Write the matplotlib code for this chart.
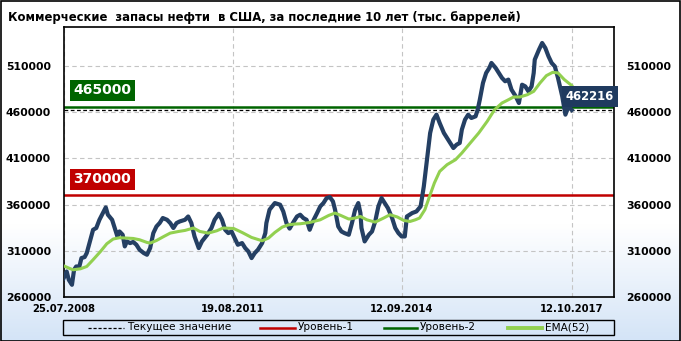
import numpy as np
import pandas as pd
import matplotlib
matplotlib.use('Agg')
import matplotlib.pyplot as plt
import matplotlib.transforms as mtransforms
from matplotlib.colors import LinearSegmentedColormap
from matplotlib.lines import Line2D
from matplotlib.patches import Rectangle

# -- data (thousand barrels), weekly, weeks counted from 25.07.2008 --
start_date = pd.Timestamp('2008-07-25')
stock_weeks = [0, 3, 5, 8, 10, 12, 15, 17, 20, 22, 25, 28, 31, 34, 38, 40, 42, 46, 49, 51,
               53, 56, 58, 60, 63, 66, 69, 72, 76, 79, 82, 85, 88, 91, 94, 98, 101, 104, 107, 110,
               115, 118, 121, 124, 128, 131, 136, 140, 143, 147, 150, 153, 156, 159, 162, 165, 169, 172, 175, 178,
               181, 184, 188, 191, 192, 195, 200, 205, 208, 211, 214, 218, 221, 224, 227, 230, 233, 236, 240, 243,
               246, 249, 252, 255, 257, 260, 263, 266, 270, 273, 276, 279, 281, 282, 285, 289, 292, 295, 298, 301,
               304, 307, 311, 314, 317, 320, 323, 325, 330, 334, 338, 341, 344, 347, 350, 353, 356, 360, 363, 366,
               369, 372, 375, 377, 380, 383, 386, 390, 392, 394, 397, 400, 403, 405, 409, 412, 415, 418, 421, 424,
               428, 431, 434, 437, 440, 443, 445, 446, 450, 453, 456, 459, 462, 465, 468, 472, 475, 478, 481]
stock_values = [280000, 287600, 278600, 273200, 289400, 293000, 293000, 302100, 303200, 307500,
                320100, 332700, 334600, 343500, 352500, 356900, 349000, 343500, 332700, 325500,
                330900, 327300, 314700, 320100, 318300, 319500, 316500, 311100, 307500, 305700,
                312900, 329100, 336300, 340000, 345400, 343500, 340000, 334600, 340000, 341700,
                343500, 347100, 340000, 325500, 312900, 320100, 327300, 334600, 343500, 350000,
                343500, 332700, 329100, 330900, 323700, 316500, 318300, 312900, 309200, 302100,
                307500, 311100, 318300, 329100, 340000, 354400, 361600, 359800, 352500, 340000,
                334000, 341700, 347100, 349000, 345400, 343500, 332700, 341700, 350800, 358000,
                361600, 367000, 368100, 363400, 354400, 336300, 330900, 329100, 327300, 340000,
                354400, 361600, 350800, 334600, 320100, 327300, 330900, 341700, 358000, 367000,
                361600, 356200, 345400, 334600, 329100, 325500, 325500, 347100, 350800, 352500,
                358000, 379600, 408500, 437400, 451800, 457200, 448200, 437400, 432000, 426600,
                421100, 424700, 426600, 441000, 451800, 457200, 453600, 455400, 462600, 473400,
                491500, 502300, 507700, 513100, 507700, 502300, 496900, 493300, 495100, 484200,
                477000, 469800, 489600, 487800, 482400, 487800, 502300, 516700, 527500, 534700,
                529300, 520300, 513100, 509400, 496900, 477000, 457200, 466200, 462216]
ema_weeks = [0, 5, 9, 16, 22, 28, 35, 41, 47, 53, 60, 66, 72, 79, 82, 88, 95, 101, 109, 115,
             123, 129, 137, 145, 151, 161, 169, 178, 188, 194, 200, 207, 213, 219, 224, 233, 243, 251, 257, 263,
             270, 276, 281, 287, 295, 303, 309, 316, 322, 328, 333, 337, 342, 347, 351, 356, 363, 371, 377, 385,
             393, 401, 408, 415, 420, 426, 432, 439, 445, 451, 457, 463, 468, 474, 481]
ema_values = [293800, 291300, 289400, 290500, 293000, 300300, 309200, 317600, 322700, 324100,
              323700, 323300, 321900, 319000, 318300, 321100, 325500, 329100, 330900, 332000,
              334600, 330900, 329100, 331600, 334600, 334100, 329800, 324400, 320800, 323700,
              329800, 335600, 338100, 338900, 339200, 340600, 343500, 348200, 350800, 347900,
              344300, 345400, 347100, 343500, 341000, 345400, 349000, 346500, 342800, 341700,
              343500, 345400, 354400, 370600, 383300, 395800, 403100, 408500, 415700, 426600,
              437400, 450000, 462600, 469800, 472700, 476300, 476300, 478800, 482400, 491500,
              499400, 503000, 502300, 495100, 488700]
level_1 = 370000
level_2 = 465000
current_value = stock_values[-1]
tick_weeks = [0, 160, 320, 481]
tick_labels = ['25.07.2008', '19.08.2011', '12.09.2014', '12.10.2017']
y_ticks = [260000, 310000, 360000, 410000, 460000, 510000]
legend_labels = ['Текущее значение', 'Уровень-1', 'Уровень-2', 'EMA(52)']

stock_dates = start_date + pd.to_timedelta(np.array(stock_weeks) * 7, unit='D')
ema_dates = start_date + pd.to_timedelta(np.array(ema_weeks) * 7, unit='D')
tick_dates = start_date + pd.to_timedelta(np.array(tick_weeks) * 7, unit='D')

navy = '#243f63'
ema_col = '#92d050'
red = '#c00000'
green = '#006400'

fig = plt.figure(figsize=(6.81, 3.41), dpi=100)

# background gradient: white top, light blue bottom
bg = fig.add_axes([0, 0, 1, 1], zorder=-10)
cmap = LinearSegmentedColormap.from_list('bg', [(0, '#d4e4f7'), (0.34, '#ffffff'), (1, '#ffffff')])
grad = np.linspace(0, 1, 256).reshape(-1, 1)
bg.imshow(grad, aspect='auto', cmap=cmap, origin='lower', extent=[0, 1, 0, 1])
bg.set_axis_off()
fig.patches.append(Rectangle((0.5 / 681, 0.5 / 341), 679.5 / 681, 339.5 / 341, transform=fig.transFigure,
                             fill=False, edgecolor='black', linewidth=1.2))

ax = fig.add_axes([63.5 / 681, 44 / 341, 550.5 / 681, 270 / 341])
ax.patch.set_alpha(0)

ax.axhline(level_1, color=red, lw=1.8, zorder=2)
ax.axhline(level_2, color=green, lw=1.8, zorder=2)
ax.axhline(current_value, color='black', lw=0.9, ls=(0, (3, 2)), zorder=2)
ax.plot(stock_dates, stock_values, color=navy, lw=3.0, solid_joinstyle='round', zorder=3)
ax.plot(ema_dates, ema_values, color=ema_col, lw=2.2, zorder=4)

ax.set_xlim(start_date, start_date + pd.Timedelta(days=7 * 521))
ax.set_ylim(260000, 552000)
ax.set_yticks(y_ticks)
ax.set_yticklabels([str(v) for v in y_ticks])
ax.set_xticks(tick_dates)
ax.set_xticklabels(tick_labels)
ax.grid(True, color='#c4c4c4', ls=(0, (4, 3)), lw=0.8)
ax.tick_params(axis='y', length=0, labelright=True, pad=9, labelsize=7.8)
ax.tick_params(axis='x', length=0, pad=5, labelsize=7.2)
for lab in ax.get_xticklabels() + ax.get_yticklabels():
    lab.set_fontweight('bold')
for t in ax.yaxis.get_major_ticks():
    t.label2.set_fontweight('bold')
    t.label2.set_fontsize(7.8)
for s in ax.spines.values():
    s.set_linewidth(1.2)

# level labels
trans = mtransforms.blended_transform_factory(ax.transAxes, ax.transData)
ax.text(0.018, 483500, str(level_2), transform=trans, color='white', fontsize=10, fontweight='bold',
        va='center', ha='left', zorder=6,
        bbox=dict(boxstyle='square,pad=0.25', fc=green, ec='none'))
ax.text(0.018, 387500, str(level_1), transform=trans, color='white', fontsize=10, fontweight='bold',
        va='center', ha='left', zorder=6,
        bbox=dict(boxstyle='square,pad=0.25', fc=red, ec='none'))
ax.text(1.0, 477000, str(current_value), transform=trans, color='white', fontsize=8.4, fontweight='bold',
        va='center', ha='right', zorder=6, clip_on=False,
        bbox=dict(boxstyle='square,pad=0.35', fc='#1f3a5f', ec='none'))

fig.text(8 / 681, 1 - 17 / 341, 'Коммерческие  запасы нефти  в США, за последние 10 лет (тыс. баррелей)',
         fontsize=8.4, fontweight='bold', va='center', ha='left')

# legend box
fig.patches.append(Rectangle((63 / 681, 1 - 335 / 341), 551 / 681, 15 / 341, transform=fig.transFigure,
                             fill=False, edgecolor='black', linewidth=1))
ly = 1 - 327.5 / 341
handles = [((88, 124), dict(color='black', lw=0.9, ls=(0, (2.5, 1.5)))),
           ((260, 295), dict(color=red, lw=1.8)),
           ((384, 417), dict(color=green, lw=1.8)),
           ((508, 542), dict(color=ema_col, lw=2.8))]
for (x0, x1), kw in handles:
    fig.lines.append(Line2D([x0 / 681, x1 / 681], [ly, ly], transform=fig.transFigure, **kw))
for (x0, x1), lab in zip([h[0] for h in handles], legend_labels):
    fig.text((x1 + 3) / 681, ly, lab, fontsize=7.6, va='center', ha='left')

fig.savefig('out.png', dpi=100)
